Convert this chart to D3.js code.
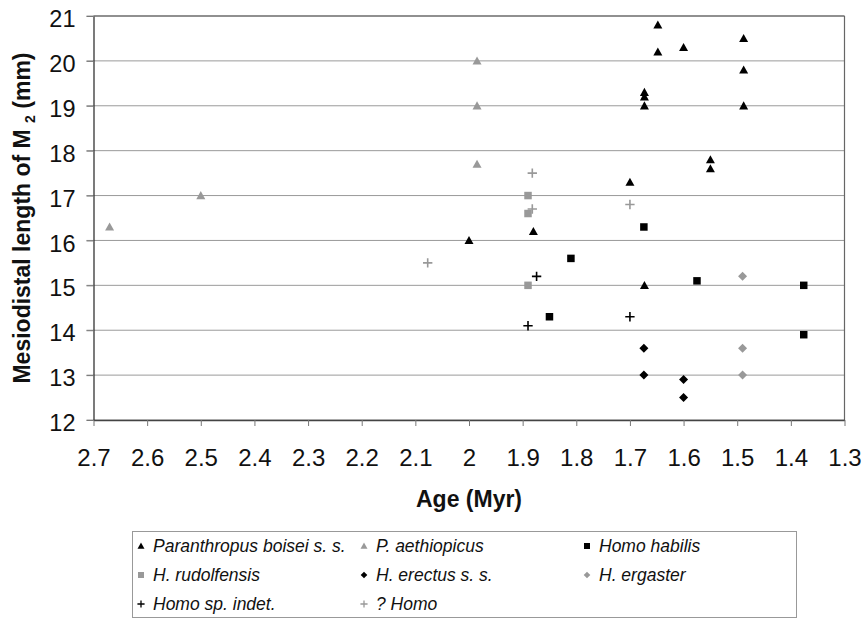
<!DOCTYPE html>
<html>
<head>
<meta charset="utf-8">
<script src="https://cdn.jsdelivr.net/npm/d3@7/dist/d3.min.js"></script>
<style>
  html, body { margin: 0; padding: 0; background: #fff; }
  svg { display: block; font-family: "Liberation Sans", Arial, Helvetica, sans-serif; }
</style>
</head>
<body>
<svg id="chart" width="868" height="619"></svg>
<script>
// ---- data ----
const xTicks = [2.7, 2.6, 2.5, 2.4, 2.3, 2.2, 2.1, 2.0, 1.9, 1.8, 1.7, 1.6, 1.5, 1.4, 1.3];
const yTicks = [12, 13, 14, 15, 16, 17, 18, 19, 20, 21];

const boiseiAge   = [2.0, 1.88, 1.70, 1.673, 1.673, 1.673, 1.673, 1.648, 1.648, 1.60, 1.55, 1.55, 1.488, 1.488, 1.488];
const boiseiLen   = [16.0, 16.2, 17.3, 19.3, 19.2, 19.0, 15.0, 20.8, 20.2, 20.3, 17.8, 17.6, 20.5, 19.8, 19.0];
const aethAge     = [2.67, 2.50, 1.985, 1.985, 1.985];
const aethLen     = [16.3, 17.0, 20.0, 19.0, 17.7];
const habilisAge  = [1.81, 1.85, 1.674, 1.575, 1.376, 1.376];
const habilisLen  = [15.6, 14.3, 16.3, 15.1, 15.0, 13.9];
const rudolfAge   = [1.89, 1.89, 1.89];
const rudolfLen   = [17.0, 16.6, 15.0];
const erectusAge  = [1.674, 1.674, 1.60, 1.60];
const erectusLen  = [13.6, 13.0, 12.9, 12.5];
const ergasterAge = [1.49, 1.49, 1.49];
const ergasterLen = [15.2, 13.6, 13.0];
const indetAge    = [1.874, 1.89, 1.70];
const indetLen    = [15.2, 14.1, 14.3];
const qHomoAge    = [2.077, 1.882, 1.882, 1.70];
const qHomoLen    = [15.5, 17.5, 16.7, 16.8];

const seriesNames = ["Paranthropus boisei s. s.", "P. aethiopicus", "Homo habilis",
                     "H. rudolfensis", "H. erectus s. s.", "H. ergaster",
                     "Homo sp. indet.", "? Homo"];

const BLACK = "#000", GRAY = "#999";
const series = [
  { name: seriesNames[0], shape: "tri",  color: BLACK, ages: boiseiAge,   lens: boiseiLen },
  { name: seriesNames[1], shape: "tri",  color: GRAY,  ages: aethAge,     lens: aethLen },
  { name: seriesNames[2], shape: "sq",   color: BLACK, ages: habilisAge,  lens: habilisLen },
  { name: seriesNames[3], shape: "sq",   color: GRAY,  ages: rudolfAge,   lens: rudolfLen },
  { name: seriesNames[4], shape: "dia",  color: BLACK, ages: erectusAge,  lens: erectusLen },
  { name: seriesNames[5], shape: "dia",  color: GRAY,  ages: ergasterAge, lens: ergasterLen },
  { name: seriesNames[6], shape: "plus", color: BLACK, ages: indetAge,    lens: indetLen },
  { name: seriesNames[7], shape: "plus", color: GRAY,  ages: qHomoAge,    lens: qHomoLen }
];

// ---- layout ----
const svg = d3.select("#chart");
const x = d3.scaleLinear().domain([2.7, 1.3]).range([93.5, 844.5]);
const y = d3.scaleLinear().domain([12, 21]).range([420, 16]);

function shapePath(shape, s) {
  if (shape === "tri") {
    const h = s * 0.9;
    return `M0,${-h*0.55}L${s/2},${h*0.45}L${-s/2},${h*0.45}Z`;
  }
  if (shape === "sq") {
    return `M${-s/2},${-s/2}h${s}v${s}h${-s}Z`;
  }
  if (shape === "dia") {
    const r = s * 0.6;
    return `M0,${-r}L${r},0L0,${r}L${-r},0Z`;
  }
  const r = s * 0.55;
  return `M${-r},0H${r}M0,${-r}V${r}`;
}

// gridlines
svg.append("g").selectAll("line").data(yTicks).join("line")
  .attr("x1", x(2.7) - 7).attr("x2", x(1.3))
  .attr("y1", d => y(d)).attr("y2", d => y(d))
  .attr("stroke", "#9a9a9a").attr("stroke-width", 1);

// plot border top/right
svg.append("line").attr("x1", x(2.7)).attr("x2", x(1.3)).attr("y1", y(21)).attr("y2", y(21))
  .attr("stroke", "#555").attr("stroke-width", 1.2);
svg.append("line").attr("x1", x(1.3)).attr("x2", x(1.3)).attr("y1", y(21)).attr("y2", y(12))
  .attr("stroke", "#666").attr("stroke-width", 1.2);

// x axis
const xAxis = svg.append("g").attr("transform", `translate(0,${y(12)})`)
  .call(d3.axisBottom(x).tickValues(xTicks).tickFormat(d3.format("~g")).tickSize(6).tickSizeOuter(0));
xAxis.select(".domain").attr("stroke", "#444").attr("stroke-width", 1.3);
xAxis.selectAll(".tick line").attr("stroke", "#777");
xAxis.selectAll(".tick text").attr("y", 0).attr("dy", 0).attr("transform", "translate(0,46)")
  .attr("font-size", 24).attr("fill", "#111").attr("font-family", "Liberation Sans, Arial, sans-serif");

// y axis
const yAxis = svg.append("g").attr("transform", `translate(${x(2.7)},0)`)
  .call(d3.axisLeft(y).tickValues(yTicks).tickFormat(d3.format("d")).tickSize(7).tickSizeOuter(0));
yAxis.select(".domain").attr("stroke", "#333").attr("stroke-width", 1.3);
yAxis.selectAll(".tick line").attr("stroke", "#777");
yAxis.selectAll(".tick text").attr("x", -18).attr("dy", "0.45em")
  .attr("font-size", 23.5).attr("fill", "#111").attr("font-family", "Liberation Sans, Arial, sans-serif");

// axis titles
svg.append("text").attr("x", (x(2.7) + x(1.3)) / 2).attr("y", 507)
  .attr("text-anchor", "middle").attr("font-size", 23).attr("font-weight", "bold").attr("fill", "#111")
  .text("Age (Myr)");

const yt = svg.append("text")
  .attr("transform", `translate(30,${(y(12) + y(21)) / 2}) rotate(-90)`)
  .attr("text-anchor", "middle").attr("font-size", 23).attr("font-weight", "bold").attr("fill", "#111");
yt.append("tspan").text("Mesiodistal length of M\u00A0");
yt.append("tspan").attr("font-size", 14).attr("dy", 5).text("2");
yt.append("tspan").attr("dy", -5).text(" (mm)");

// points
series.forEach(s => {
  const pts = s.ages.map((a, i) => ({ a, v: s.lens[i] }));
  const size = s.shape === "tri" ? 9 : s.shape === "sq" ? 7.5 : s.shape === "dia" ? 7.5 : 8.5;
  svg.append("g").selectAll("path").data(pts).join("path")
    .attr("transform", d => `translate(${x(d.a)},${y(d.v)})`)
    .attr("d", shapePath(s.shape, size))
    .attr("fill", s.shape === "plus" ? "none" : s.color)
    .attr("stroke", s.shape === "plus" ? s.color : "none")
    .attr("stroke-width", 1.6);
});

// legend
const lg = svg.append("g");
lg.append("rect").attr("x", 132.5).attr("y", 531.5).attr("width", 664).attr("height", 86)
  .attr("fill", "none").attr("stroke", "#999").attr("stroke-width", 1);
const colX = [141, 364, 587];
const rowY = [546, 575, 604];
series.forEach((s, i) => {
  const cx = colX[i % 3], cy = rowY[Math.floor(i / 3)];
  const size = s.shape === "tri" ? 7 : s.shape === "sq" ? 6 : s.shape === "dia" ? 5.5 : 6.5;
  lg.append("path").attr("transform", `translate(${cx},${cy})`)
    .attr("d", shapePath(s.shape, size))
    .attr("fill", s.shape === "plus" ? "none" : s.color)
    .attr("stroke", s.shape === "plus" ? s.color : "none")
    .attr("stroke-width", 1.3);
  lg.append("text").attr("x", cx + 12).attr("y", cy).attr("dy", "0.36em")
    .attr("font-size", 17.5).attr("font-style", "italic").attr("fill", "#111")
    .text(s.name);
});
</script>
</body>
</html>
